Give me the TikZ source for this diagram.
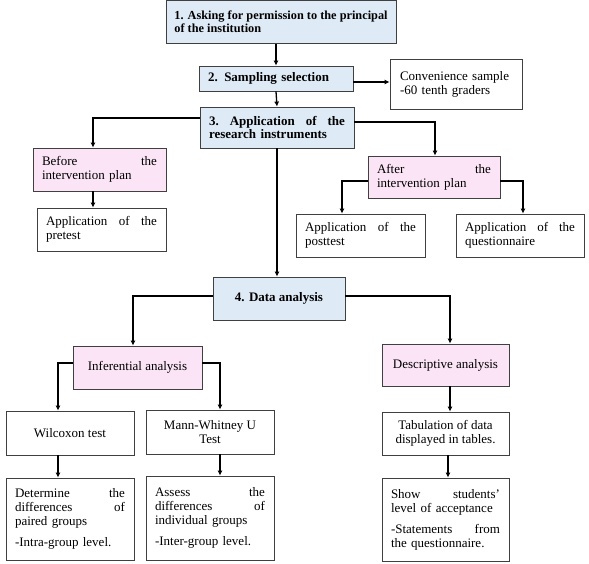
\documentclass[tikz,border=0pt]{standalone}
\usepackage{fontspec}
\setmainfont{Liberation Serif}
\usetikzlibrary{arrows.meta}
\definecolor{stepblue}{HTML}{DEEBF7}
\definecolor{steppink}{HTML}{FBE4F6}
\hyphenpenalty=10000
\exhyphenpenalty=10000

\begin{document}
\begin{tikzpicture}[x=1pt, y=-1pt,
    box/.style={draw=black!75, line width=0.8pt, rectangle, inner sep=0pt,
        font=\fontsize{13}{14}\selectfont},
    main/.style={box, fill=stepblue, font=\fontsize{13}{13.5}\selectfont\bfseries},
    sub/.style={box, fill=steppink},
    flow/.style={line width=1.3pt, -{Latex[length=5pt,width=5pt]}}]
                \useasboundingbox (0,0) rectangle (589,563);
                % main steps
                \node[main, minimum width=230pt, minimum height=43pt, align=left,
                    font=\fontsize{12.3}{13}\selectfont\bfseries] (perm) at (281,22)
                    {1. Asking for permission to the principal\\of the institution};
                \node[main, minimum width=154pt, minimum height=25pt, text width=136pt, align=left] (samp) at (276,78.5)
                    {2. Sampling selection};
                \node[box, minimum width=132pt, minimum height=50pt, text width=112pt, align=left] (conv) at (456,84)
                    {Convenience sample\\-60 tenth graders};
                \node[main, minimum width=154pt, minimum height=41pt, text width=136pt, align=left] (inst) at (277,127.5)
                    {3.\hfill Application\hfill of\hfill the\\research instruments};
                % before and after
                \node[sub, minimum width=133pt, minimum height=43pt, text width=115pt, align=left] (before) at (99.5,169.5)
                    {Before\hfill the\\intervention plan};
                \node[box, minimum width=129pt, minimum height=43pt, text width=111pt, align=left] (pre) at (101.5,229.5)
                    {Application\hfill of\hfill the\\pretest};
                \node[sub, minimum width=132pt, minimum height=42pt, text width=114pt, align=left] (after) at (434,177)
                    {After\hfill the\\intervention plan};
                \node[box, minimum width=129pt, minimum height=43pt, text width=111pt, align=left] (post) at (360.5,235.5)
                    {Application\hfill of\hfill the\\posttest};
                \node[box, minimum width=128pt, minimum height=43pt, text width=110pt, align=left] (quest) at (520,235.5)
                    {Application\hfill of\hfill the\\questionnaire};
                % analysis
                \node[main, minimum width=132pt, minimum height=43pt, align=center] (data) at (279,298.5)
                    {4. Data analysis};
                \node[sub, minimum width=129pt, minimum height=43pt, align=center] (infer) at (137.5,367.5)
                    {Inferential analysis};
                \node[sub, minimum width=127pt, minimum height=42pt, align=center] (desc) at (445.5,365)
                    {Descriptive analysis};
                \node[box, minimum width=128pt, minimum height=44pt, align=center] (wil) at (70,433)
                    {Wilcoxon test};
                \node[box, minimum width=128pt, minimum height=44pt, align=center] (mann) at (210,432)
                    {Mann-Whitney U\\Test};
                \node[box, minimum width=127pt, minimum height=43pt, align=center] (tab) at (445.5,433.5)
                    {Tabulation of data\\displayed in tables.};
                \node[box, minimum width=128pt, minimum height=82pt, text width=110pt, align=left] (det) at (70,519)
                    {Determine\hfill the\\differences\hfill of\\paired groups\\[7pt]-Intra-group level.};
                \node[box, minimum width=128pt, minimum height=84pt, text width=110pt, align=left] (assess) at (210,518)
                    {Assess\hfill the\\differences\hfill of\\individual groups\\[7pt]-Inter-group level.};
                \node[box, minimum width=127pt, minimum height=83pt, text width=109pt, align=left] (show) at (445.5,519.5)
                    {Show\hfill students'\\level of acceptance\\[7pt]-Statements\hfill from\\the questionnaire.};
                % straight arrows
                \path [flow]
                    (samp.north |- perm.south) edge (samp.north)
                    (samp.south) edge (inst.north)
                    ([yshift=-3.5pt]samp.east) edge ([yshift=-3.5pt]samp.east -| conv.west)
                    ([xshift=-6.5pt]before.south) edge ([xshift=-6.5pt]before.south |- pre.north)
                    (inst.south) edge (inst.south |- data.north)
                    ([xshift=4.5pt]desc.south) edge ([xshift=4.5pt]desc.south |- tab.north)
                    ([xshift=-12pt]wil.south) edge ([xshift=-12pt]wil.south |- det.north)
                    ([xshift=10pt]mann.south) edge ([xshift=10pt]mann.south |- assess.north)
                    ([xshift=2.5pt]tab.south) edge ([xshift=2.5pt]tab.south |- show.north);
                % elbow arrows
                \draw [flow] ([yshift=9.5pt]inst.west) -| ([xshift=-6.5pt]before.north);
                \draw [flow] ([yshift=5.5pt]inst.east) -| ([xshift=1pt]after.north);
                \draw [flow] ([yshift=-4pt]after.west) -| ([xshift=-18.5pt]post.north);
                \draw [flow] ([yshift=-4pt]after.east) -| ([xshift=3pt]quest.north);
                \draw [flow] ([yshift=2.5pt]data.west) -| ([xshift=-4.5pt]infer.north);
                \draw [flow] ([yshift=2.5pt]data.east) -| ([xshift=4.5pt]desc.north);
                \draw [flow] ([yshift=4.5pt]infer.west) -| ([xshift=-12pt]wil.north);
                \draw [flow] ([yshift=4.5pt]infer.east) -| ([xshift=10pt]mann.north);
            \end{tikzpicture}
\end{document}
